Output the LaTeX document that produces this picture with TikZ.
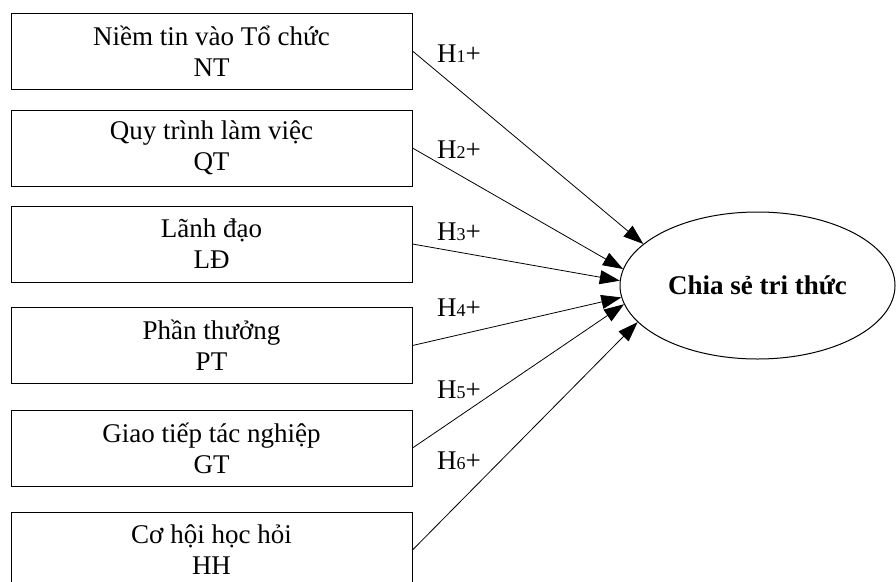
\documentclass[tikz,border=0pt]{standalone}
\usepackage{fontspec}
\setmainfont{Liberation Serif}
\usetikzlibrary{shapes.geometric,arrows.meta}
\newcommand\hsub[1]{{\fontsize{18}{18}\selectfont #1}}
\begin{document}
\begin{tikzpicture}[x=1pt,y=-1pt,
  box/.style={draw, line width=1pt, minimum width=401pt, minimum height=76pt,
    inner sep=0pt, align=center, font=\fontsize{27}{31}\selectfont},
  conn/.style={line width=0.8pt, -{Triangle[length=20pt,width=14pt]}},
  hlab/.style={anchor=base west, inner sep=0pt, font=\fontsize{27}{31}\selectfont}]
\useasboundingbox (0,0) rectangle (896,581);
\clip (0,0) rectangle (896,581);
\node[box] (b1) at (211.5,51) {Niềm tin vào Tổ chức\\NT};
\node[box] (b2) at (211.5,148) {Quy trình làm việc\\QT};
\node[box] (b3) at (211.5,244) {Lãnh đạo\\LĐ};
\node[box] (b4) at (211.5,345.5) {Phần thưởng\\PT};
\node[box] (b5) at (211.5,448) {Giao tiếp tác nghiệp\\GT};
\node[box] (b6) at (211.5,550) {Cơ hội học hỏi\\HH};
\node[draw, ellipse, line width=1pt, minimum width=275pt, minimum height=147pt,
  inner sep=0pt, font=\bfseries\fontsize{27}{31}\selectfont] (E) at (757.5,285.5) {Chia sẻ tri thức};
\draw[conn] (b1.east) -- (E.160.1);
\draw[conn] (b2.east) -- (E.173.8);
\draw[conn] (b3.east) -- (E.178.1);
\draw[conn] (b4.east) -- (E.185.6);
\draw[conn] (b5.east) -- (E.188.7);
\draw[conn] (b6.east) -- (E.197.4);
\node[hlab] (l1) at (437,62) {H\hsub{1}+};
\node[hlab] (l2) at (437,158) {H\hsub{2}+};
\node[hlab] (l3) at (437,240) {H\hsub{3}+};
\node[hlab] (l4) at (437,316) {H\hsub{4}+};
\node[hlab] (l5) at (437,398) {H\hsub{5}+};
\node[hlab] (l6) at (437,469) {H\hsub{6}+};
\end{tikzpicture}
\end{document}
